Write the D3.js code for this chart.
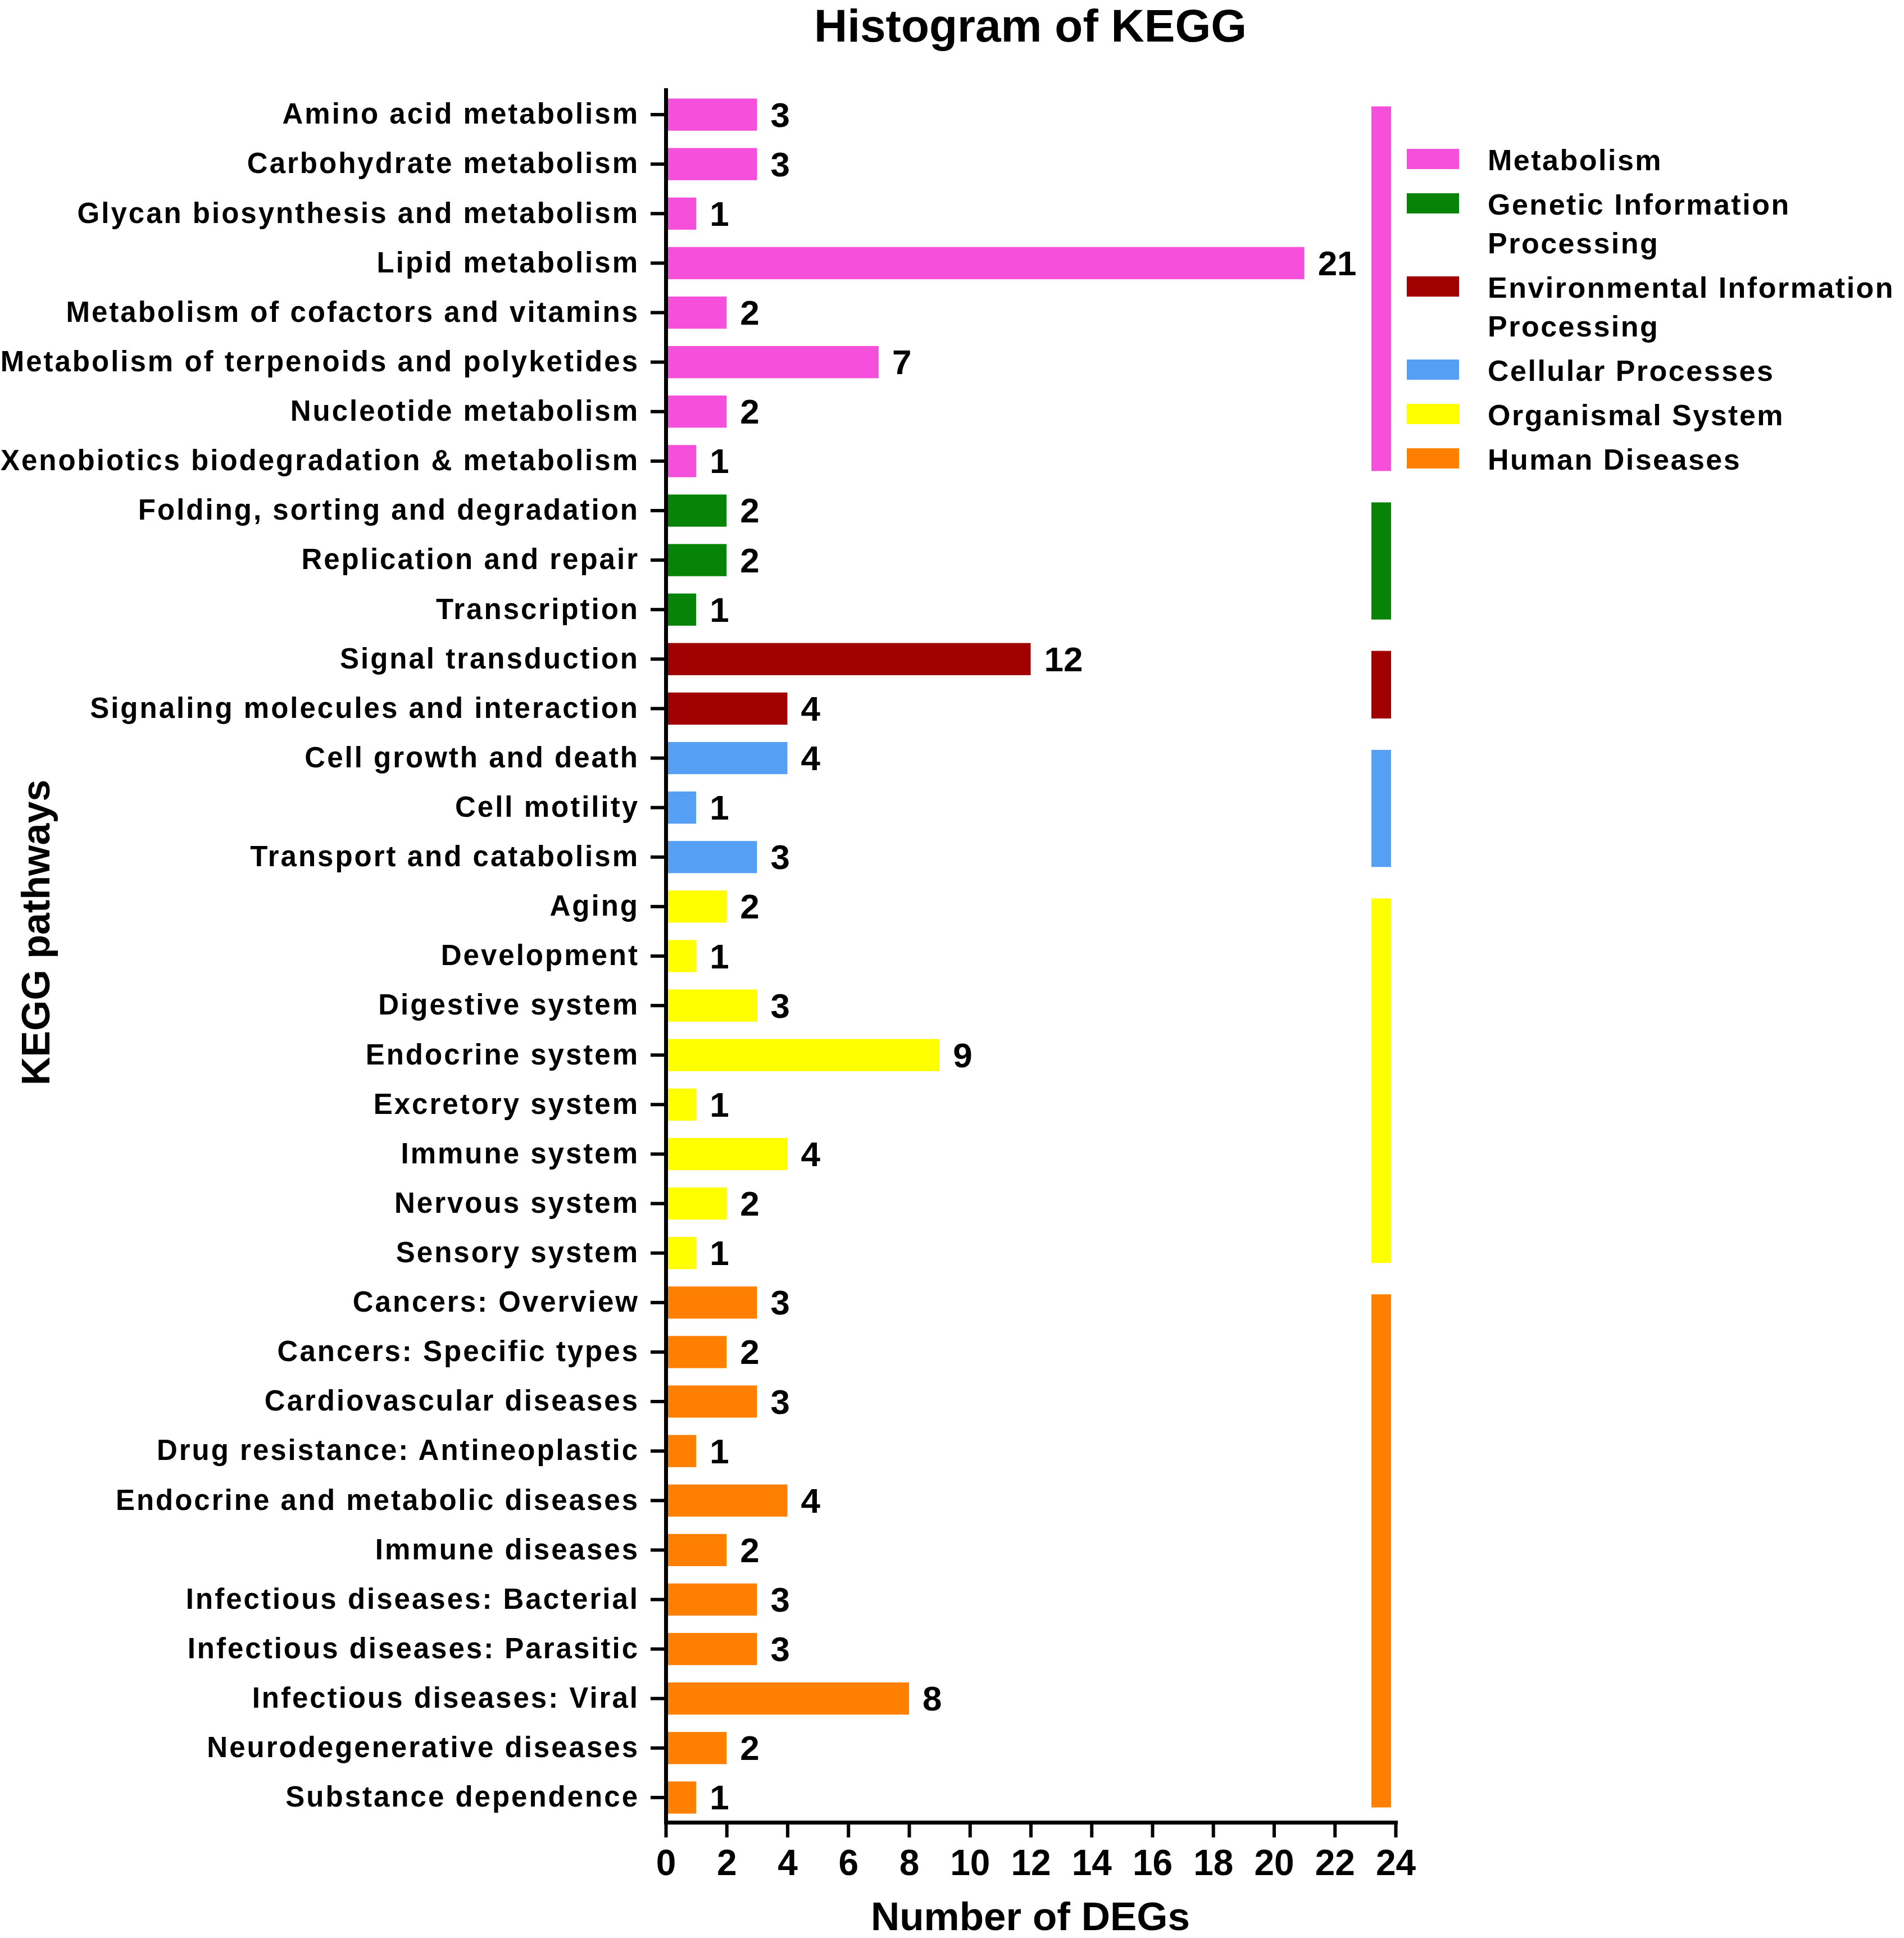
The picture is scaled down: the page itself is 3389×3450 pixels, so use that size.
<!DOCTYPE html>
<html>
<head>
<meta charset="utf-8">
<script src="https://cdn.jsdelivr.net/npm/d3@7"></script>
<style>
  html, body { margin: 0; padding: 0; background: #fff; }
  svg { display: block; }
  text { font-family: "Liberation Sans", Arial, Helvetica, sans-serif; font-weight: bold; fill: #000; }
</style>
</head>
<body>
<svg id="chart" width="3389" height="3450"></svg>
<script>
// ---------- DATA ----------
const groups = ["Metabolism", "Genetic Information Processing", "Environmental Information Processing",
                "Cellular Processes", "Organismal System", "Human Diseases"];
const groupColors = ["#F54FDB", "#078307", "#A00000", "#55A0F5", "#FFFF00", "#FF8000"];
const legendLines = [["Metabolism"], ["Genetic Information", "Processing"], ["Environmental Information", "Processing"],
                     ["Cellular Processes"], ["Organismal System"], ["Human Diseases"]];

const categories = [
  "Amino acid metabolism", "Carbohydrate metabolism", "Glycan biosynthesis and metabolism", "Lipid metabolism",
  "Metabolism of cofactors and vitamins", "Metabolism of terpenoids and polyketides", "Nucleotide metabolism",
  "Xenobiotics biodegradation & metabolism",
  "Folding, sorting and degradation", "Replication and repair", "Transcription",
  "Signal transduction", "Signaling molecules and interaction",
  "Cell growth and death", "Cell motility", "Transport and catabolism",
  "Aging", "Development", "Digestive system", "Endocrine system", "Excretory system", "Immune system",
  "Nervous system", "Sensory system",
  "Cancers: Overview", "Cancers: Specific types", "Cardiovascular diseases", "Drug resistance: Antineoplastic",
  "Endocrine and metabolic diseases", "Immune diseases", "Infectious diseases: Bacterial",
  "Infectious diseases: Parasitic", "Infectious diseases: Viral", "Neurodegenerative diseases", "Substance dependence"
];
const values = [3, 3, 1, 21, 2, 7, 2, 1,
                2, 2, 1,
                12, 4,
                4, 1, 3,
                2, 1, 3, 9, 1, 4, 2, 1,
                3, 2, 3, 1, 4, 2, 3, 3, 8, 2, 1];
const categoryGroup = [0, 0, 0, 0, 0, 0, 0, 0,
                       1, 1, 1,
                       2, 2,
                       3, 3, 3,
                       4, 4, 4, 4, 4, 4, 4, 4,
                       5, 5, 5, 5, 5, 5, 5, 5, 5, 5, 5];
const xTicks = [0, 2, 4, 6, 8, 10, 12, 14, 16, 18, 20, 22, 24];

// ---------- LAYOUT ----------
const svg = d3.select("#chart");
const x0 = 1185, x1 = 2484, yTop = 160, yBot = 3244;

const x = d3.scaleLinear().domain([0, 24]).range([x0, x1]);
const y = d3.scaleBand().domain(categories).range([yTop, yBot]).paddingInner(0.35).paddingOuter(0.175);

const data = categories.map((c, i) => ({ name: c, value: values[i], group: categoryGroup[i] }));

// bars
svg.append("g").selectAll("rect").data(data).join("rect")
  .attr("x", x(0))
  .attr("y", d => y(d.name))
  .attr("width", d => x(d.value) - x(0))
  .attr("height", y.bandwidth())
  .attr("fill", d => groupColors[d.group]);

// value labels
svg.append("g").selectAll("text").data(data).join("text")
  .attr("x", d => x(d.value) + 24)
  .attr("y", d => y(d.name) + y.bandwidth() / 2)
  .attr("dominant-baseline", "central")
  .style("font-size", "62px")
  .text(d => d.value);

// axes
const xAxis = d3.axisBottom(x).tickValues(xTicks).tickSize(27).tickSizeOuter(0).tickPadding(22);
const gx = svg.append("g").attr("transform", `translate(0,${yBot})`).call(xAxis);
gx.select(".domain").attr("stroke", "#000").attr("stroke-width", 7).attr("stroke-linecap", "square");
gx.selectAll(".tick line").attr("stroke", "#000").attr("stroke-width", 6);
gx.selectAll(".tick text").style("font-size", "64px").attr("font-family", null).attr("fill", "#000");

const yAxis = d3.axisLeft(y).tickSize(27).tickSizeOuter(0).tickPadding(20);
const gy = svg.append("g").attr("transform", `translate(${x0},0)`).call(yAxis);
gy.select(".domain").attr("stroke", "#000").attr("stroke-width", 7).attr("stroke-linecap", "square");
gy.selectAll(".tick line").attr("stroke", "#000").attr("stroke-width", 6);
gy.selectAll(".tick text").style("font-size", "51px").style("letter-spacing", "3px")
  .attr("font-family", null).attr("fill", "#000");

// group bars at right
const groupSpans = groups.map((g, gi) => {
  const members = data.filter(d => d.group === gi);
  return { gi, top: y(members[0].name) + 14, bottom: y(members[members.length - 1].name) + y.bandwidth() - 11 };
});
svg.append("g").selectAll("rect").data(groupSpans).join("rect")
  .attr("x", 2441).attr("width", 35)
  .attr("y", d => d.top).attr("height", d => d.bottom - d.top)
  .attr("fill", d => groupColors[d.gi]);

// legend
const legend = svg.append("g");
let extra = 0;
legendLines.forEach((lines, i) => {
  const top = 265 + 79 * i + 69 * extra;
  legend.append("rect").attr("x", 2504).attr("y", top).attr("width", 93).attr("height", 36)
    .attr("fill", groupColors[i]);
  lines.forEach((ln, j) => {
    legend.append("text").attr("x", 2648).attr("y", top + 38 + 69 * j)
      .style("font-size", "52px").style("letter-spacing", "2.5px").text(ln);
  });
  extra += lines.length - 1;
});

// titles
svg.append("text").attr("x", 1834).attr("y", 74).attr("text-anchor", "middle")
  .style("font-size", "82px").text("Histogram of KEGG");
svg.append("text").attr("x", 1834).attr("y", 3436).attr("text-anchor", "middle")
  .style("font-size", "71px").text("Number of DEGs");
svg.append("text").attr("transform", "translate(88,1660) rotate(-90)").attr("text-anchor", "middle")
  .style("font-size", "70px").text("KEGG pathways");
</script>
</body>
</html>
